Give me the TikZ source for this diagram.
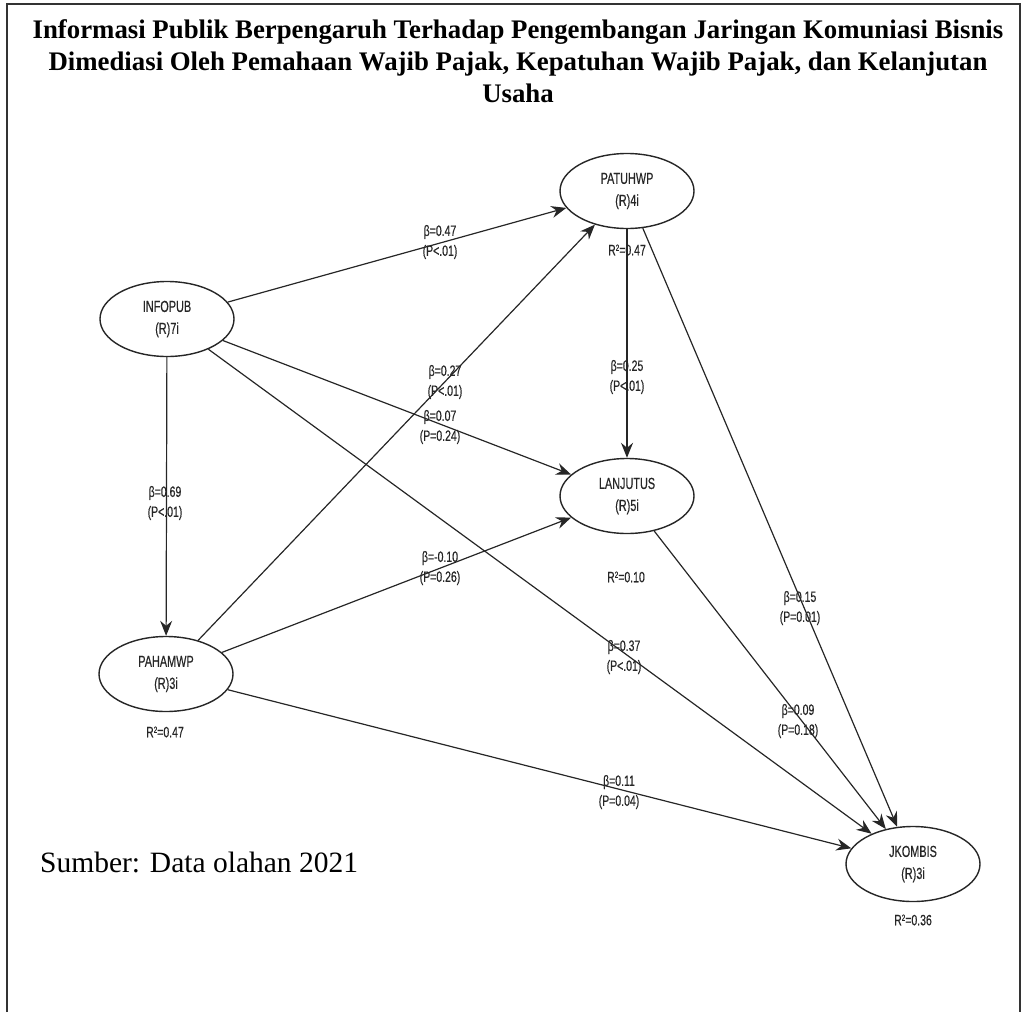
\documentclass[tikz,border=0pt]{standalone}
\usepackage{fontspec}
\setmainfont{Liberation Serif}
\newfontfamily\labfont[FakeStretch=0.7,FakeBold=0.4]{Liberation Sans}
\newfontfamily\nodefont[FakeStretch=0.68,FakeBold=0.4]{Liberation Sans}
\usetikzlibrary{arrows.meta,shapes.geometric}
\begin{document}
\begin{tikzpicture}[x=1pt,y=-1pt,
  lv/.style={draw=black!85, ellipse, minimum width=134pt, minimum height=75pt, line width=1.4pt, inner sep=0pt,
    font=\nodefont\fontsize{16}{22}\selectfont, align=center, text=black!85},
  conn/.style={-{Stealth[length=15pt,width=12pt,inset=5pt]}, line width=1.2pt, black!85},
  elab/.style={font=\labfont\fontsize{15}{20}\selectfont, align=center, inner sep=0pt, text=black!85},
  ttl/.style={font=\bfseries\fontsize{26.8}{32}\selectfont, align=center, inner sep=0pt}
]
\useasboundingbox (0,0) rectangle (1022,1012);
\draw[line width=2pt, black!80] (7,1012) -- (7,4) -- (1020,4) -- (1020,1012);

\node[ttl] (title) at (518,61) {Informasi Publik Berpengaruh Terhadap Pengembangan Jaringan Komuniasi Bisnis\\
Dimediasi Oleh Pemahaan Wajib Pajak, Kepatuhan Wajib Pajak, dan Kelanjutan\\ Usaha};

\node[lv] (infopub) at (167,319) {INFOPUB\\(R)7i};
\node[lv] (patuh) at (627,191) {PATUHWP\\(R)4i};
\node[lv] (lanjut) at (627,496) {LANJUTUS\\(R)5i};
\node[lv] (paham) at (166,674) {PAHAMWP\\(R)3i};
\node[lv] (jkom) at (913,864) {JKOMBIS\\(R)3i};

\draw[conn] (infopub) -- (patuh);
\draw[conn] (infopub) -- (paham);
\draw[conn] (infopub) -- (lanjut);
\draw[conn] (infopub) -- (jkom);
\draw[conn] (paham) -- (patuh);
\draw[conn] (paham) -- (lanjut);
\draw[conn] (paham) -- (jkom);
\draw[conn] (patuh) -- (lanjut);
\draw[conn] (patuh) -- (jkom);
\draw[conn] (lanjut) -- (jkom);

\node[elab] (b1) at (440,242) {β=0.47\\(P<.01)};
\node[elab] (b2) at (165,503) {β=0.69\\(P<.01)};
\node[elab] (b3) at (445,382) {β=0.27\\(P<.01)};
\node[elab] (b4) at (440,427) {β=0.07\\(P=0.24)};
\node[elab] (b5) at (627,377) {β=0.25\\(P<.01)};
\node[elab] (b6) at (440,568) {β=-0.10\\(P=0.26)};
\node[elab] (b7) at (800,608) {β=0.15\\(P=0.01)};
\node[elab] (b8) at (624,657) {β=0.37\\(P<.01)};
\node[elab] (b9) at (798,721) {β=0.09\\(P=0.18)};
\node[elab] (b10) at (619,792) {β=0.11\\(P=0.04)};

\newcommand{\rsq}[1]{R\raisebox{0.55ex}{\fontsize{9}{9}\selectfont 2}=#1}
\node[elab] (r1) at (627,250) {\rsq{0.47}};
\node[elab] (r2) at (626,577) {\rsq{0.10}};
\node[elab] (r3) at (165,732) {\rsq{0.47}};
\node[elab] (r4) at (913,920) {\rsq{0.36}};

\node[font=\fontsize{29.5}{32}\selectfont, anchor=west, inner sep=0pt] (src) at (40,862) {Sumber: Data olahan 2021};
\end{tikzpicture}
\end{document}
